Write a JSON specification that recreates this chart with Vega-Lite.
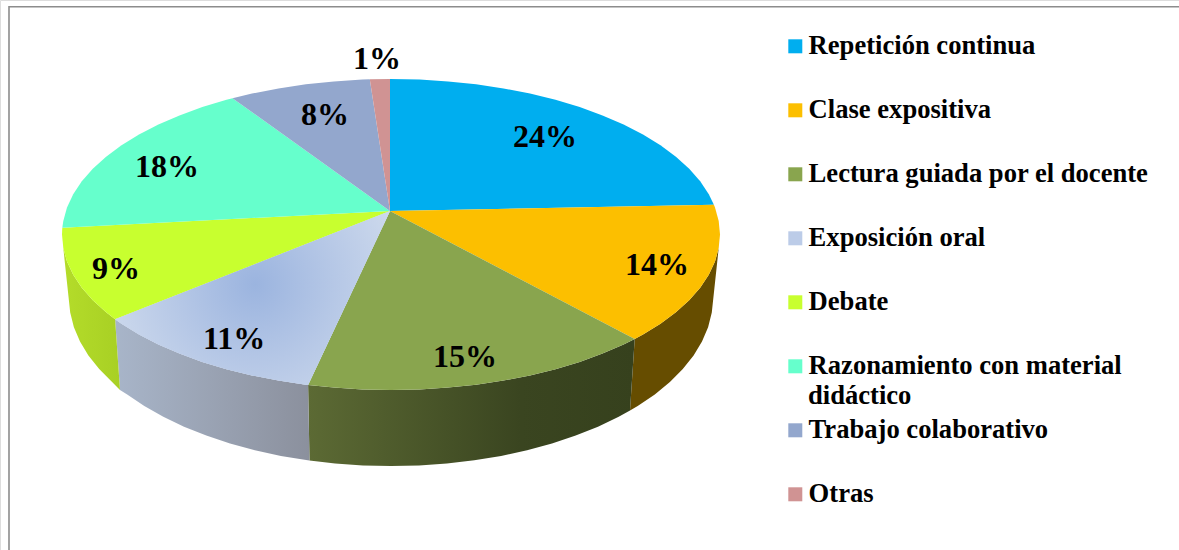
{"$schema":"https://vega.github.io/schema/vega-lite/v6.json","width":1179,"height":550,"autosize":"none","padding":0,"background":"white",
"datasets":{
"frame":[{"i":0,"x":9,"y":550},{"i":1,"x":9,"y":6.7},{"i":2,"x":1179,"y":6.7}],
"walls":[
{"slice":"Clase","i":0,"x":718.7,"y":248.1},{"slice":"Clase","i":1,"x":715,"y":261.5},{"slice":"Clase","i":2,"x":708.8,"y":274.7},{"slice":"Clase","i":3,"x":700.2,"y":287.7},{"slice":"Clase","i":4,"x":689.2,"y":300.2},{"slice":"Clase","i":5,"x":675.9,"y":312.3},{"slice":"Clase","i":6,"x":660.5,"y":323.7},{"slice":"Clase","i":7,"x":643,"y":334.5},{"slice":"Clase","i":8,"x":634.7,"y":338.9},{"slice":"Clase","i":9,"x":630,"y":410.6},{"slice":"Clase","i":10,"x":637.7,"y":406},{"slice":"Clase","i":11,"x":654.8,"y":394.4},{"slice":"Clase","i":12,"x":669.9,"y":382},{"slice":"Clase","i":13,"x":682.8,"y":369},{"slice":"Clase","i":14,"x":693.6,"y":355.5},{"slice":"Clase","i":15,"x":702,"y":341.5},{"slice":"Clase","i":16,"x":708.1,"y":327.2},{"slice":"Clase","i":17,"x":711.8,"y":312.6},
{"slice":"Lectura","i":0,"x":634.7,"y":338.9},{"slice":"Lectura","i":1,"x":623.6,"y":344.5},{"slice":"Lectura","i":2,"x":602.5,"y":353.6},{"slice":"Lectura","i":3,"x":579.7,"y":361.9},{"slice":"Lectura","i":4,"x":555.5,"y":369.2},{"slice":"Lectura","i":5,"x":530,"y":375.4},{"slice":"Lectura","i":6,"x":503.5,"y":380.6},{"slice":"Lectura","i":7,"x":476.1,"y":384.7},{"slice":"Lectura","i":8,"x":448.1,"y":387.6},{"slice":"Lectura","i":9,"x":419.7,"y":389.4},{"slice":"Lectura","i":10,"x":391,"y":390},{"slice":"Lectura","i":11,"x":362.3,"y":389.4},{"slice":"Lectura","i":12,"x":333.9,"y":387.6},{"slice":"Lectura","i":13,"x":308.1,"y":385},{"slice":"Lectura","i":14,"x":309.5,"y":460.6},{"slice":"Lectura","i":15,"x":335.1,"y":463.4},{"slice":"Lectura","i":16,"x":362.9,"y":465.4},{"slice":"Lectura","i":17,"x":391,"y":466},{"slice":"Lectura","i":18,"x":419.1,"y":465.4},{"slice":"Lectura","i":19,"x":446.9,"y":463.4},{"slice":"Lectura","i":20,"x":474.3,"y":460.3},{"slice":"Lectura","i":21,"x":501.1,"y":455.9},{"slice":"Lectura","i":22,"x":527.1,"y":450.3},{"slice":"Lectura","i":23,"x":552,"y":443.5},{"slice":"Lectura","i":24,"x":575.7,"y":435.6},{"slice":"Lectura","i":25,"x":598,"y":426.7},{"slice":"Lectura","i":26,"x":618.7,"y":416.8},{"slice":"Lectura","i":27,"x":630,"y":410.6},
{"slice":"Exposicion","i":0,"x":308.1,"y":385},{"slice":"Exposicion","i":1,"x":305.9,"y":384.7},{"slice":"Exposicion","i":2,"x":278.5,"y":380.6},{"slice":"Exposicion","i":3,"x":252,"y":375.4},{"slice":"Exposicion","i":4,"x":226.5,"y":369.2},{"slice":"Exposicion","i":5,"x":202.3,"y":361.9},{"slice":"Exposicion","i":6,"x":179.5,"y":353.6},{"slice":"Exposicion","i":7,"x":158.4,"y":344.5},{"slice":"Exposicion","i":8,"x":139,"y":334.5},{"slice":"Exposicion","i":9,"x":121.5,"y":323.7},{"slice":"Exposicion","i":10,"x":115.1,"y":319.2},{"slice":"Exposicion","i":11,"x":120,"y":390},{"slice":"Exposicion","i":12,"x":127.2,"y":394.4},{"slice":"Exposicion","i":13,"x":144.3,"y":406},{"slice":"Exposicion","i":14,"x":163.3,"y":416.8},{"slice":"Exposicion","i":15,"x":184,"y":426.7},{"slice":"Exposicion","i":16,"x":206.3,"y":435.6},{"slice":"Exposicion","i":17,"x":230,"y":443.5},{"slice":"Exposicion","i":18,"x":254.9,"y":450.3},{"slice":"Exposicion","i":19,"x":280.9,"y":455.9},{"slice":"Exposicion","i":20,"x":307.7,"y":460.3},{"slice":"Exposicion","i":21,"x":309.5,"y":460.6},
{"slice":"Debate","i":0,"x":115.1,"y":319.2},{"slice":"Debate","i":1,"x":106.1,"y":312.3},{"slice":"Debate","i":2,"x":92.8,"y":300.2},{"slice":"Debate","i":3,"x":81.8,"y":287.7},{"slice":"Debate","i":4,"x":73.2,"y":274.7},{"slice":"Debate","i":5,"x":67,"y":261.5},{"slice":"Debate","i":6,"x":63.3,"y":248.1},{"slice":"Debate","i":7,"x":70.2,"y":312.6},{"slice":"Debate","i":8,"x":73.9,"y":327.2},{"slice":"Debate","i":9,"x":80,"y":341.5},{"slice":"Debate","i":10,"x":88.4,"y":355.5},{"slice":"Debate","i":11,"x":99.2,"y":369},{"slice":"Debate","i":12,"x":112.1,"y":382},{"slice":"Debate","i":13,"x":120,"y":390}
],
"faces":[
{"categoria":"Repetición continua","i":0,"x":390,"y":211},{"categoria":"Repetición continua","i":1,"x":390,"y":79},{"categoria":"Repetición continua","i":2,"x":419.7,"y":79.6},{"categoria":"Repetición continua","i":3,"x":448.1,"y":81.4},{"categoria":"Repetición continua","i":4,"x":476.1,"y":84.3},{"categoria":"Repetición continua","i":5,"x":503.5,"y":88.4},{"categoria":"Repetición continua","i":6,"x":530,"y":93.6},{"categoria":"Repetición continua","i":7,"x":555.5,"y":99.8},{"categoria":"Repetición continua","i":8,"x":579.7,"y":107.1},{"categoria":"Repetición continua","i":9,"x":602.5,"y":115.4},{"categoria":"Repetición continua","i":10,"x":623.6,"y":124.5},{"categoria":"Repetición continua","i":11,"x":643,"y":134.5},{"categoria":"Repetición continua","i":12,"x":660.5,"y":145.3},{"categoria":"Repetición continua","i":13,"x":675.9,"y":156.7},{"categoria":"Repetición continua","i":14,"x":689.2,"y":168.8},{"categoria":"Repetición continua","i":15,"x":700.2,"y":181.3},{"categoria":"Repetición continua","i":16,"x":708.8,"y":194.3},{"categoria":"Repetición continua","i":17,"x":713.9,"y":204.8},
{"categoria":"Clase expositiva","i":0,"x":390,"y":211},{"categoria":"Clase expositiva","i":1,"x":713.9,"y":204.8},{"categoria":"Clase expositiva","i":2,"x":715,"y":207.5},{"categoria":"Clase expositiva","i":3,"x":718.7,"y":220.9},{"categoria":"Clase expositiva","i":4,"x":720,"y":234.5},{"categoria":"Clase expositiva","i":5,"x":718.7,"y":248.1},{"categoria":"Clase expositiva","i":6,"x":715,"y":261.5},{"categoria":"Clase expositiva","i":7,"x":708.8,"y":274.7},{"categoria":"Clase expositiva","i":8,"x":700.2,"y":287.7},{"categoria":"Clase expositiva","i":9,"x":689.2,"y":300.2},{"categoria":"Clase expositiva","i":10,"x":675.9,"y":312.3},{"categoria":"Clase expositiva","i":11,"x":660.5,"y":323.7},{"categoria":"Clase expositiva","i":12,"x":643,"y":334.5},{"categoria":"Clase expositiva","i":13,"x":634.7,"y":338.9},
{"categoria":"Lectura guiada por el docente","i":0,"x":390,"y":211},{"categoria":"Lectura guiada por el docente","i":1,"x":634.7,"y":338.9},{"categoria":"Lectura guiada por el docente","i":2,"x":623.6,"y":344.5},{"categoria":"Lectura guiada por el docente","i":3,"x":602.5,"y":353.6},{"categoria":"Lectura guiada por el docente","i":4,"x":579.7,"y":361.9},{"categoria":"Lectura guiada por el docente","i":5,"x":555.5,"y":369.2},{"categoria":"Lectura guiada por el docente","i":6,"x":530,"y":375.4},{"categoria":"Lectura guiada por el docente","i":7,"x":503.5,"y":380.6},{"categoria":"Lectura guiada por el docente","i":8,"x":476.1,"y":384.7},{"categoria":"Lectura guiada por el docente","i":9,"x":448.1,"y":387.6},{"categoria":"Lectura guiada por el docente","i":10,"x":419.7,"y":389.4},{"categoria":"Lectura guiada por el docente","i":11,"x":391,"y":390},{"categoria":"Lectura guiada por el docente","i":12,"x":362.3,"y":389.4},{"categoria":"Lectura guiada por el docente","i":13,"x":333.9,"y":387.6},{"categoria":"Lectura guiada por el docente","i":14,"x":308.1,"y":385},
{"categoria":"Exposición oral","i":0,"x":390,"y":211},{"categoria":"Exposición oral","i":1,"x":308.1,"y":385},{"categoria":"Exposición oral","i":2,"x":305.9,"y":384.7},{"categoria":"Exposición oral","i":3,"x":278.5,"y":380.6},{"categoria":"Exposición oral","i":4,"x":252,"y":375.4},{"categoria":"Exposición oral","i":5,"x":226.5,"y":369.2},{"categoria":"Exposición oral","i":6,"x":202.3,"y":361.9},{"categoria":"Exposición oral","i":7,"x":179.5,"y":353.6},{"categoria":"Exposición oral","i":8,"x":158.4,"y":344.5},{"categoria":"Exposición oral","i":9,"x":139,"y":334.5},{"categoria":"Exposición oral","i":10,"x":121.5,"y":323.7},{"categoria":"Exposición oral","i":11,"x":115.1,"y":319.2},
{"categoria":"Debate","i":0,"x":390,"y":211},{"categoria":"Debate","i":1,"x":115.1,"y":319.2},{"categoria":"Debate","i":2,"x":106.1,"y":312.3},{"categoria":"Debate","i":3,"x":92.8,"y":300.2},{"categoria":"Debate","i":4,"x":81.8,"y":287.7},{"categoria":"Debate","i":5,"x":73.2,"y":274.7},{"categoria":"Debate","i":6,"x":67,"y":261.5},{"categoria":"Debate","i":7,"x":63.3,"y":248.1},{"categoria":"Debate","i":8,"x":62,"y":234.5},{"categoria":"Debate","i":9,"x":62.3,"y":227.7},
{"categoria":"Razonamiento con material didáctico","i":0,"x":390,"y":211},{"categoria":"Razonamiento con material didáctico","i":1,"x":62.3,"y":227.7},{"categoria":"Razonamiento con material didáctico","i":2,"x":63.3,"y":220.9},{"categoria":"Razonamiento con material didáctico","i":3,"x":67,"y":207.5},{"categoria":"Razonamiento con material didáctico","i":4,"x":73.2,"y":194.3},{"categoria":"Razonamiento con material didáctico","i":5,"x":81.8,"y":181.3},{"categoria":"Razonamiento con material didáctico","i":6,"x":92.8,"y":168.8},{"categoria":"Razonamiento con material didáctico","i":7,"x":106.1,"y":156.7},{"categoria":"Razonamiento con material didáctico","i":8,"x":121.5,"y":145.3},{"categoria":"Razonamiento con material didáctico","i":9,"x":139,"y":134.5},{"categoria":"Razonamiento con material didáctico","i":10,"x":158.4,"y":124.5},{"categoria":"Razonamiento con material didáctico","i":11,"x":179.5,"y":115.4},{"categoria":"Razonamiento con material didáctico","i":12,"x":202.3,"y":107.1},{"categoria":"Razonamiento con material didáctico","i":13,"x":226.5,"y":99.8},{"categoria":"Razonamiento con material didáctico","i":14,"x":232.5,"y":98.2},
{"categoria":"Trabajo colaborativo","i":0,"x":390,"y":211},{"categoria":"Trabajo colaborativo","i":1,"x":232.5,"y":98.2},{"categoria":"Trabajo colaborativo","i":2,"x":252,"y":93.6},{"categoria":"Trabajo colaborativo","i":3,"x":278.5,"y":88.4},{"categoria":"Trabajo colaborativo","i":4,"x":305.9,"y":84.3},{"categoria":"Trabajo colaborativo","i":5,"x":333.9,"y":81.4},{"categoria":"Trabajo colaborativo","i":6,"x":362.3,"y":79.6},{"categoria":"Trabajo colaborativo","i":7,"x":369.8,"y":79.3},
{"categoria":"Otras","i":0,"x":390,"y":211},{"categoria":"Otras","i":1,"x":369.8,"y":79.3},{"categoria":"Otras","i":2,"x":390,"y":79}
],
"shares":[
{"categoria":"Repetición continua","share":0.24,"x":545,"y":137},
{"categoria":"Clase expositiva","share":0.14,"x":657,"y":265},
{"categoria":"Lectura guiada por el docente","share":0.15,"x":465,"y":357},
{"categoria":"Exposición oral","share":0.11,"x":234,"y":339},
{"categoria":"Debate","share":0.09,"x":116,"y":269},
{"categoria":"Razonamiento con material didáctico","share":0.18,"x":167,"y":167},
{"categoria":"Trabajo colaborativo","share":0.08,"x":325,"y":115},
{"categoria":"Otras","share":0.01,"x":377,"y":59}
],
"wrap":[{"texto":"didáctico","x":808,"y":396}]
},
"encoding":{
"x":{"field":"x","type":"quantitative","axis":null,"scale":{"domain":[0,1179],"nice":false,"zero":false}},
"y":{"field":"y","type":"quantitative","axis":null,"scale":{"domain":[550,0],"nice":false,"zero":false}}
},
"layer":[
{"data":{"name":"frame"},"mark":{"type":"line","stroke":"#8c8c8c","strokeWidth":1.6},"encoding":{"order":{"field":"i","type":"quantitative"}}},
{"data":{"name":"walls"},"transform":[{"filter":"datum.slice==='Clase'"}],"mark":{"type":"line","filled":true,"strokeWidth":0,"fill":"#664d00"},"encoding":{"order":{"field":"i","type":"quantitative"}}},
{"data":{"name":"walls"},"transform":[{"filter":"datum.slice==='Lectura'"}],"mark":{"type":"line","filled":true,"strokeWidth":0,"fill":{"gradient":"linear","x1":0,"y1":0,"x2":1,"y2":0,"stops":[{"offset":0,"color":"#5c6a34"},{"offset":0.65,"color":"#3a4520"},{"offset":1,"color":"#36411d"}]}},"encoding":{"order":{"field":"i","type":"quantitative"}}},
{"data":{"name":"walls"},"transform":[{"filter":"datum.slice==='Exposicion'"}],"mark":{"type":"line","filled":true,"strokeWidth":0,"fill":{"gradient":"linear","x1":0,"y1":0,"x2":1,"y2":0,"stops":[{"offset":0,"color":"#a8b5c9"},{"offset":1,"color":"#8b909d"}]}},"encoding":{"order":{"field":"i","type":"quantitative"}}},
{"data":{"name":"walls"},"transform":[{"filter":"datum.slice==='Debate'"}],"mark":{"type":"line","filled":true,"strokeWidth":0,"fill":{"gradient":"linear","x1":0,"y1":0,"x2":1,"y2":0,"stops":[{"offset":0,"color":"#b4dc2a"},{"offset":1,"color":"#a8d024"}]}},"encoding":{"order":{"field":"i","type":"quantitative"}}},
{"data":{"name":"faces"},"mark":{"type":"line","filled":true,"strokeWidth":0},"encoding":{"order":{"field":"i","type":"quantitative"},
"color":{"field":"categoria","type":"nominal","scale":{"domain":["Repetición continua","Clase expositiva","Lectura guiada por el docente","Exposición oral","Debate","Razonamiento con material didáctico","Trabajo colaborativo","Otras"],"range":["#00aeef","#fcbf00","#89a54e","#bccce8","#c8ff2f","#66ffcc","#93a7cd","#d09393"]},
"legend":{"orient":"none","legendX":782,"legendY":33,"padding":0,"title":null,"symbolType":"square","symbolSize":196,"symbolStrokeWidth":0,"symbolOpacity":1,"labelFont":"Liberation Serif","labelFontWeight":"bold","labelFontSize":26.6,"labelColor":"#000000","labelOffset":0,"rowPadding":37,"labelLimit":400,"labelExpr":"datum.label==='Razonamiento con material didáctico'?'Razonamiento con material':datum.label"}}}},
{"data":{"name":"faces"},"transform":[{"filter":"datum.categoria==='Exposición oral'"}],"mark":{"type":"line","filled":true,"strokeWidth":0,"fill":{"gradient":"radial","x1":0.51,"y1":0.45,"r1":0,"x2":0.51,"y2":0.45,"r2":0.7,"stops":[{"offset":0,"color":"#9bb4df"},{"offset":0.4,"color":"#b5c7e6"},{"offset":1,"color":"#dae3f0"}]}},"encoding":{"order":{"field":"i","type":"quantitative"}}},
{"data":{"name":"shares"},"mark":{"type":"text","font":"Liberation Serif","fontWeight":"bold","fontSize":32,"color":"#000000","baseline":"middle","align":"center"},"encoding":{"text":{"field":"share","type":"quantitative","format":".0%"}}},
{"data":{"name":"wrap"},"mark":{"type":"text","font":"Liberation Serif","fontWeight":"bold","fontSize":26.6,"color":"#000000","baseline":"middle","align":"left"},"encoding":{"text":{"field":"texto","type":"nominal"}}}
]}
